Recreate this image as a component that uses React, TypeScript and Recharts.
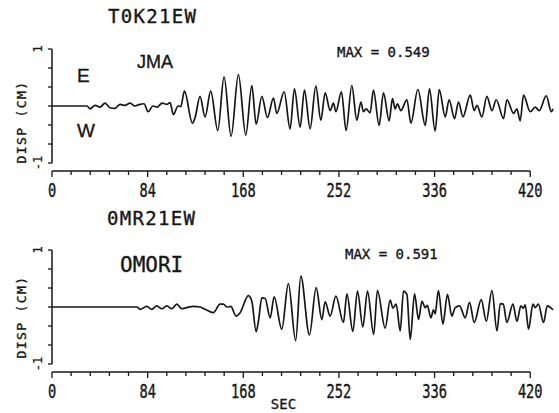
import React from "react";
import { LineChart, Line, XAxis, YAxis, ReferenceLine } from "recharts";

// TOK21EW (JMA) — seconds / displacement in cm
const tokTimes = [
  0, 30.8, 33.4, 37.8, 42.2, 46.6, 51.0, 55.4, 59.8, 64.1,
  68.5, 72.9, 77.3, 80.8, 84.4, 88.7, 92.3, 96.7, 101.1, 103.7,
  106.6, 110.7, 113.1, 116.3, 123.3, 125.7, 130.0, 134.4, 139.4, 145.6,
  151.1, 157.3, 163.7, 170.2, 175.5, 179.3, 184.3, 189.2, 194.5, 197.4,
  203.9, 209.1, 212.9, 217.9, 221.7, 226.7, 231.7, 236.1, 239.9, 244.3,
  247.2, 249.3, 254.2, 258.3, 263.3, 267.7, 271.3, 273.5, 275.9, 279.4,
  282.3, 287.3, 291.1, 296.1, 299.0, 301.4, 303.4, 306.4, 311.7, 315.2,
  321.3, 327.8, 331.5, 336.5, 340.1, 345.3, 348.8, 353.5, 357.0, 360.9,
  367.3, 370.8, 373.2, 377.6, 381.9, 386.4, 390.1, 396.6, 399.5, 405.4,
  408.3, 411.2, 414.1, 420.0, 424.4, 427.9, 434.1, 438.5, 440,
];
const tokDisp = [
  0, 0, -0.05, 0.01, -0.02, 0.05, -0.03, -0.04, 0.03, 0.01,
  0.05, 0, 0.03, 0.04, -0.1, 0, -0.02, 0.05, 0.03, 0.06,
  -0.15, 0, -0.01, 0.26, -0.3, -0.2, 0.17, -0.19, 0.26, -0.43,
  0.51, -0.53, 0.549, -0.51, 0.36, -0.32, 0.17, -0.2, 0.14, -0.13,
  0.25, -0.4, 0.3, -0.37, 0.28, -0.4, 0.35, -0.25, 0.23, -0.08,
  0.05, -0.1, 0.25, -0.43, 0.36, -0.25, 0.07, -0.1, -0.05, -0.12,
  0.28, -0.34, 0.23, -0.26, 0.13, -0.05, 0.04, -0.08, 0.11, -0.3,
  0.29, -0.34, 0.3, -0.44, 0.29, -0.19, 0.11, -0.22, 0.07, -0.19,
  0.19, -0.08, 0.01, -0.19, 0.17, -0.08, 0.11, -0.22, 0.11, -0.13,
  -0.05, -0.26, 0.19, -0.1, -0.02, -0.08, 0.18, -0.1, -0.05,
];

// OMR21EW (OMORI)
const omrTimes = [
  0, 74.7, 77.3, 83.2, 87.6, 92.0, 96.4, 100.8, 105.2, 109.6,
  114.0, 118.4, 124.2, 130.0, 134.4, 141.7, 147.6, 150.5, 153.5, 157.0,
  161.7, 165.2, 172.5, 175.5, 179.3, 181.3, 184.3, 187.2, 191.6, 195.1,
  201.8, 207.6, 214.0, 218.5, 226.1, 232.0, 237.0, 239.9, 244.3, 249.3,
  256.0, 259.0, 264.2, 268.3, 273.0, 277.1, 282.5, 285.8, 292.6, 297.0,
  299.4, 302.3, 305.8, 308.7, 311.7, 314.6, 318.4, 321.9, 324.9, 327.8,
  329.6, 332.8, 335.0, 336.5, 339.4, 343.3, 347.3, 351.2, 354.1, 357.9,
  362.9, 366.7, 370.8, 377.0, 381.4, 386.4, 390.8, 393.7, 396.3, 399.5,
  404.8, 408.3, 411.8, 413.9, 415.6, 418.5, 422.4, 424.4, 427.1, 431.7,
  435.0, 440,
];
const omrDisp = [
  0, 0, -0.04, 0.01, -0.04, 0.02, -0.03, 0.02, -0.03, 0.05,
  -0.03, -0.01, 0.01, 0, -0.04, -0.1, 0.05, 0.05, 0, 0.01,
  -0.16, -0.1, 0.2, 0.1, -0.43, -0.25, 0.16, 0.15, -0.19, 0.18,
  -0.39, 0.41, -0.591, 0.54, -0.49, 0.34, -0.22, 0.09, -0.16, 0.19,
  -0.27, 0.23, -0.43, 0.28, -0.35, 0.28, -0.48, 0.29, -0.37, 0.12,
  -0.02, 0.05, -0.42, 0.28, 0.22, -0.57, 0.23, -0.22, 0.1, -0.01,
  0.03, -0.19, -0.05, -0.12, 0.29, -0.3, 0.22, -0.16, -0.01, 0.02,
  -0.19, 0.08, -0.27, 0.13, -0.25, 0.29, -0.42, 0.06, 0.05, -0.27,
  0.05, -0.25, 0.02, -0.02, 0.04, -0.39, 0.05, -0.01, 0.05, -0.27,
  0.02, -0.05,
];

const xTicks = [
  0, 16.8, 33.6, 50.4, 67.2, 84, 100.8, 117.6, 134.4, 151.2, 168, 184.8, 201.6,
  218.4, 235.2, 252, 268.8, 285.6, 302.4, 319.2, 336, 352.8, 369.6, 386.4, 403.2, 420,
];
const xLabelTicks = [0, 84, 168, 252, 336, 420];
const yTicks = [-1, -2 / 3, -1 / 3, 0, 1 / 3, 2 / 3, 1];

const INK = "#161616";
const MONO = "'DejaVu Sans Mono', monospace";
const SANS = "'Liberation Sans', Arial, sans-serif";
const PLOT_LEFT = 52;
const PLOT_BOTTOM = 171;

function XTick(props: any) {
  const { x, payload } = props;
  const major = xLabelTicks.includes(payload.value);
  return (
    <g>
      <line x1={x} x2={x} y1={PLOT_BOTTOM} y2={PLOT_BOTTOM + (major ? 6 : 4)} stroke={INK} strokeWidth={1.3} />
      {major && (
        <text
          transform={`translate(${x},197) scale(0.72,1)`}
          textAnchor="middle"
          fontFamily={MONO}
          fontSize={19}
          fill={INK}
          stroke={INK}
          strokeWidth={0.4}
        >
          {payload.value}
        </text>
      )}
    </g>
  );
}

function YTick(props: any) {
  const { y, payload } = props;
  const v = payload.value;
  const label = v === 1 || v === -1 ? String(v) : "";
  return (
    <g>
      <line x1={PLOT_LEFT - 4} x2={PLOT_LEFT} y1={y} y2={y} stroke={INK} strokeWidth={1.3} />
      {label && (
        <text
          transform={`translate(38,${y}) rotate(-90)`}
          textAnchor="middle"
          dominantBaseline="central"
          fontFamily={MONO}
          fontSize={12}
          fill={INK}
          stroke={INK}
          strokeWidth={0.3}
        >
          {label}
        </text>
      )}
    </g>
  );
}

function Seismogram({ times, disp }: { times: number[]; disp: number[] }) {
  const data = times.map((t, i) => ({ t, d: disp[i] }));
  return (
    <LineChart width={559} height={201} data={data} margin={{ top: 49, right: 6, bottom: 0, left: 40 }}>
      <XAxis
        dataKey="t"
        type="number"
        domain={[0, 440]}
        ticks={xTicks}
        interval={0}
        axisLine={false}
        tickLine={false}
        height={30}
        tick={<XTick />}
      />
      <YAxis
        type="number"
        domain={[-1.14, 1]}
        ticks={yTicks}
        interval={0}
        axisLine={false}
        tickLine={false}
        width={12}
        tick={<YTick />}
      />
      <ReferenceLine
        segment={[{ x: 0, y: -1 }, { x: 0, y: 1 }]}
        stroke={INK}
        strokeWidth={1.5}
        ifOverflow="visible"
      />
      <ReferenceLine
        segment={[{ x: 0, y: -1.14 }, { x: 420, y: -1.14 }]}
        stroke={INK}
        strokeWidth={1.6}
        ifOverflow="visible"
      />
      <Line
        type="monotone"
        dataKey="d"
        stroke={INK}
        strokeWidth={1.7}
        dot={false}
        isAnimationActive={false}
      />
    </LineChart>
  );
}

export default function App() {
  return (
    <div style={{ position: "absolute", left: 0, top: 0, width: 559, height: 413, background: "#fff" }}>
      <div style={{ position: "absolute", left: 0, top: 0 }}>
        <Seismogram times={tokTimes} disp={tokDisp} />
      </div>
      <div style={{ position: "absolute", left: 0, top: 201 }}>
        <Seismogram times={omrTimes} disp={omrDisp} />
      </div>
      <svg width={559} height={413} style={{ position: "absolute", left: 0, top: 0, pointerEvents: "none" }}>
        <g fill={INK} stroke={INK} strokeWidth={0.35}>
          <text x={108} y={23} fontFamily={MONO} fontSize={19} letterSpacing={1.3}>T0K21EW</text>
          <text x={137} y={68} fontFamily={SANS} fontSize={18}>JMA</text>
          <text x={77} y={82} fontFamily={SANS} fontSize={19}>E</text>
          <text x={77} y={137} fontFamily={SANS} fontSize={19}>W</text>
          <text x={337} y={57} fontFamily={MONO} fontSize={14}>MAX = 0.549</text>
          <text
            transform="translate(21,122) rotate(-90)"
            textAnchor="middle"
            dominantBaseline="central"
            fontFamily={MONO}
            fontSize={13}
            letterSpacing={1.4}
          >
            DISP (CM)
          </text>

          <text x={107} y={225} fontFamily={MONO} fontSize={19} letterSpacing={1.3}>0MR21EW</text>
          <text x={120} y={272} fontFamily={MONO} fontSize={21}>OMORI</text>
          <text x={345} y={259} fontFamily={MONO} fontSize={14}>MAX = 0.591</text>
          <text
            transform="translate(21,317) rotate(-90)"
            textAnchor="middle"
            dominantBaseline="central"
            fontFamily={MONO}
            fontSize={13}
            letterSpacing={1.4}
          >
            DISP (CM)
          </text>
          <text x={283.5} y={409} textAnchor="middle" fontFamily={MONO} fontSize={14}>SEC</text>
        </g>
      </svg>
    </div>
  );
}
